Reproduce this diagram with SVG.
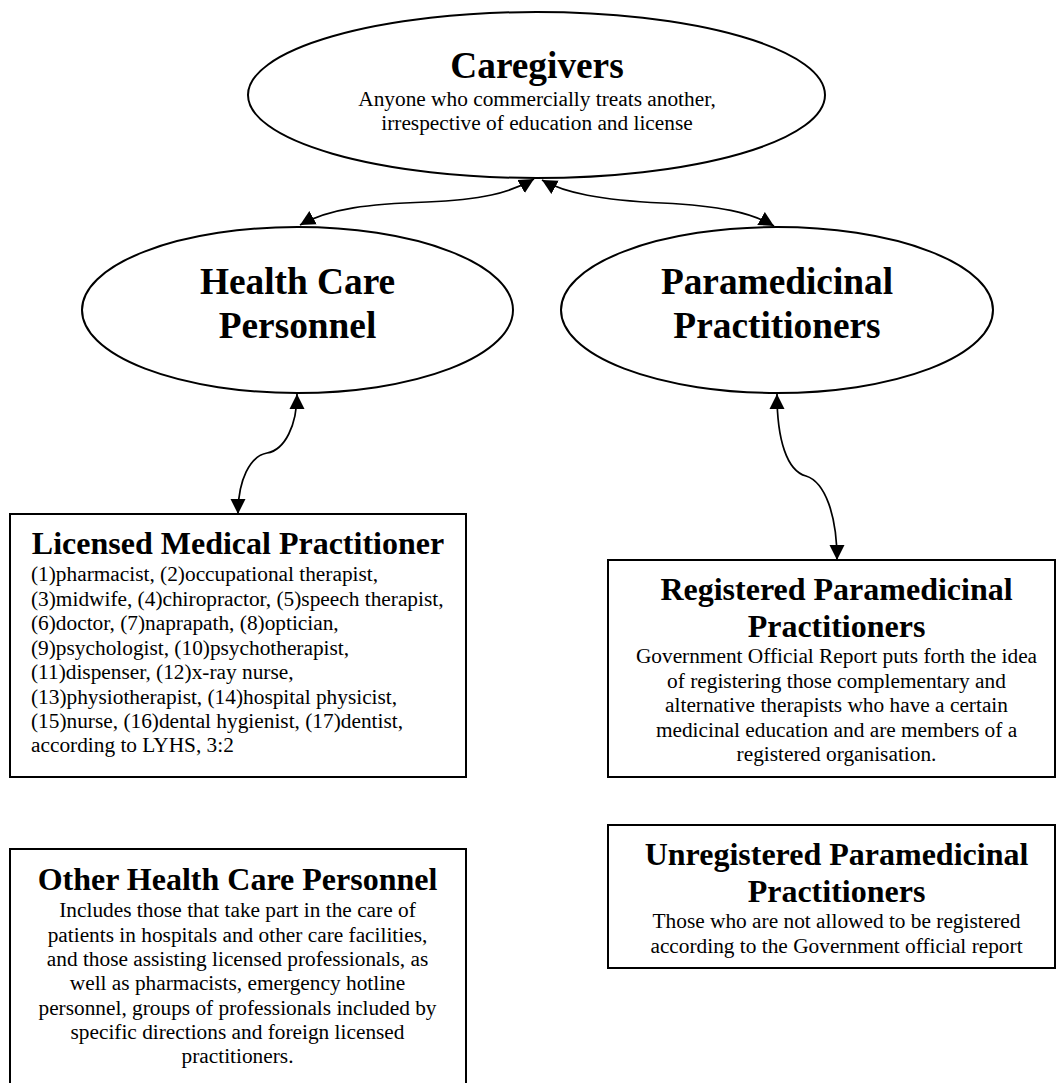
<svg xmlns="http://www.w3.org/2000/svg" width="1057" height="1083" viewBox="0 0 1057 1083">
<defs>
<marker id="ah" markerUnits="userSpaceOnUse" markerWidth="17" markerHeight="16" refX="15" refY="8" orient="auto-start-reverse">
<path d="M0,0.5 L15,8 L0,15.5 z" fill="#000"/>
</marker>
<style>
.shape{fill:#fff;stroke:#000;stroke-width:2}
.t1{font-family:"Liberation Serif","Times New Roman",serif;font-weight:bold;font-size:37.33px;fill:#000;text-anchor:middle}
.t2{font-family:"Liberation Serif","Times New Roman",serif;font-weight:bold;font-size:32px;fill:#000;text-anchor:middle}
.b{font-family:"Liberation Serif","Times New Roman",serif;font-size:21.33px;fill:#000;text-anchor:middle}
.bl{font-family:"Liberation Serif","Times New Roman",serif;font-size:21.33px;fill:#000;text-anchor:start}
.edge{fill:none;stroke:#000;stroke-width:1.7;marker-start:url(#ah);marker-end:url(#ah)}
</style>
</defs>
<rect width="1057" height="1083" fill="#fff"/>

<g id="caregivers">
<ellipse class="shape" cx="536.5" cy="95" rx="288.5" ry="83"/>
<text class="t1" x="537" y="78">Caregivers</text>
<text class="b" x="537" y="106">Anyone who commercially treats another,</text>
<text class="b" x="537" y="130">irrespective of education and license</text>
</g>

<g id="health-care-personnel">
<ellipse class="shape" cx="297.5" cy="310" rx="215.5" ry="83"/>
<text class="t1" x="297.5" y="294">Health Care</text>
<text class="t1" x="297.5" y="338">Personnel</text>
</g>

<g id="paramedicinal-practitioners">
<ellipse class="shape" cx="777" cy="310" rx="216" ry="83"/>
<text class="t1" x="777" y="294">Paramedicinal</text>
<text class="t1" x="777" y="338">Practitioners</text>
</g>

<g id="licensed-medical-practitioner">
<rect class="shape" x="10" y="514" width="456" height="263"/>
<text class="t2" x="238" y="554">Licensed Medical Practitioner</text>
<text class="bl" x="31" y="581">(1)pharmacist, (2)occupational therapist,</text>
<text class="bl" x="31" y="606">(3)midwife, (4)chiropractor, (5)speech therapist,</text>
<text class="bl" x="31" y="630">(6)doctor, (7)naprapath, (8)optician,</text>
<text class="bl" x="31" y="655">(9)psychologist, (10)psychotherapist,</text>
<text class="bl" x="31" y="679">(11)dispenser, (12)x-ray nurse,</text>
<text class="bl" x="31" y="704">(13)physiotherapist, (14)hospital physicist,</text>
<text class="bl" x="31" y="728">(15)nurse, (16)dental hygienist, (17)dentist,</text>
<text class="bl" x="31" y="752">according to LYHS, 3:2</text>
</g>

<g id="registered-paramedicinal-practitioners">
<rect class="shape" x="608" y="560" width="447" height="217"/>
<text class="t2" x="836.5" y="600">Registered Paramedicinal</text>
<text class="t2" x="836.5" y="637">Practitioners</text>
<text class="b" x="836.5" y="663">Government Official Report puts forth the idea</text>
<text class="b" x="836.5" y="688">of registering those complementary and</text>
<text class="b" x="836.5" y="712">alternative therapists who have a certain</text>
<text class="b" x="836.5" y="737">medicinal education and are members of a</text>
<text class="b" x="836.5" y="761">registered organisation.</text>
</g>

<g id="other-health-care-personnel">
<rect class="shape" x="10" y="849" width="456" height="240"/>
<text class="t2" x="237.5" y="890">Other Health Care Personnel</text>
<text class="b" x="237.5" y="917">Includes those that take part in the care of</text>
<text class="b" x="237.5" y="942">patients in hospitals and other care facilities,</text>
<text class="b" x="237.5" y="966">and those assisting licensed professionals, as</text>
<text class="b" x="237.5" y="990">well as pharmacists, emergency hotline</text>
<text class="b" x="237.5" y="1015">personnel, groups of professionals included by</text>
<text class="b" x="237.5" y="1039">specific directions and foreign licensed</text>
<text class="b" x="237.5" y="1063">practitioners.</text>
</g>

<g id="unregistered-paramedicinal-practitioners">
<rect class="shape" x="608" y="825" width="447" height="143"/>
<text class="t2" x="836.5" y="865">Unregistered Paramedicinal</text>
<text class="t2" x="836.5" y="902">Practitioners</text>
<text class="b" x="836.5" y="928">Those who are not allowed to be registered</text>
<text class="b" x="836.5" y="953">according to the Government official report</text>
</g>

<g id="connectors">
<path class="edge" d="M 300 225 C 330 208, 370 204, 427 202 C 480 200, 510 193, 534 179"/>
<path class="edge" d="M 542 180 C 565 193, 600 200, 662 203 C 720 206, 750 212, 774 226"/>
<path class="edge" d="M 297 394 C 297 425, 285 450, 267 453 C 250 456, 238 480, 238 514"/>
<path class="edge" d="M 777 394 C 777 440, 787 471, 806 476 C 825 482, 837 515, 837 560"/>
</g>
</svg>
